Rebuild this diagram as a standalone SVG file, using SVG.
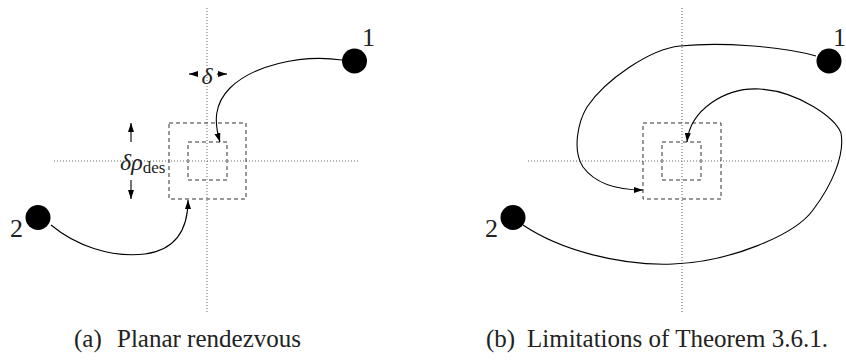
<svg xmlns="http://www.w3.org/2000/svg" width="846" height="363" viewBox="0 0 846 363">
<style>
.dot{stroke:#666;stroke-width:1;stroke-dasharray:1 2;fill:none}
.dash{stroke:#333;stroke-width:1;stroke-dasharray:4 3;fill:none}
.curve{stroke:#000;stroke-width:1.1;fill:none}
.arr{marker-end:url(#ah)}
text{font-family:'Liberation Serif','Times New Roman',serif;fill:#222}
.it{font-style:italic}
</style>
<defs>
<marker id="ah" markerUnits="userSpaceOnUse" markerWidth="10" markerHeight="8" refX="9" refY="3" orient="auto">
<path d="M0,0 L9,3 L0,6 z" fill="#000"/>
</marker>
</defs>
<rect width="846" height="363" fill="#fff"/>

<g id="axes">
<line class="dot" x1="207" y1="8" x2="207" y2="313"/>
<line class="dot" x1="54" y1="161" x2="360" y2="161"/>
<line class="dot" x1="682" y1="8" x2="682" y2="313"/>
<line class="dot" x1="528" y1="161" x2="834" y2="161"/>
</g>

<g id="boxA">
<rect class="dash" x="169" y="123" width="77" height="76"/>
<rect class="dash" x="188" y="142" width="39" height="38"/>
</g>
<g id="boxB">
<rect class="dash" x="643" y="123" width="78" height="76"/>
<rect class="dash" x="662" y="142" width="39" height="38"/>
</g>

<g id="connectors">
<path class="curve arr" d="M342,60 C300,54 252,66 230,88 C214,104 214,122 220,142"/>
<path class="curve arr" d="M51,225 C75,245 110,258 145,254 C175,250 188,230 188,200"/>
<path class="curve arr" d="M816,56 C780,46 720,42 680,46 C650,49 605,80 587,107 C578,122 572,150 583,167 C594,182 615,190 643,190"/>
<path class="curve arr" d="M523,225 C560,250 620,266 673,264 C730,262 795,235 813,210 C832,185 845,155 841,133 C835,118 800,92 760,89 C725,87 690,110 687,142"/>
<line class="curve arr" x1="198" y1="74" x2="189" y2="74"/>
<line class="curve arr" x1="217" y1="74" x2="227" y2="74"/>
<line class="curve arr" x1="131" y1="142" x2="131" y2="123"/>
<line class="curve arr" x1="131" y1="180" x2="131" y2="199"/>
</g>

<g id="nodeA1">
<circle cx="354.5" cy="61" r="12.5" fill="#000"/>
<text x="362" y="46" font-size="26" font-family="Liberation Serif, serif">1</text>
</g>
<g id="nodeA2">
<circle cx="38" cy="217.5" r="12.5" fill="#000"/>
<text x="10" y="237" font-size="26" font-family="Liberation Serif, serif">2</text>
</g>
<g id="nodeB1">
<circle cx="829" cy="61" r="12.5" fill="#000"/>
<text x="833" y="46" font-size="26" font-family="Liberation Serif, serif">1</text>
</g>
<g id="nodeB2">
<circle cx="513" cy="217.5" r="12.5" fill="#000"/>
<text x="485" y="237" font-size="26" font-family="Liberation Serif, serif">2</text>
</g>

<g id="labels">
<text class="it" x="207" y="84" font-size="24" text-anchor="middle" font-family="Liberation Serif, serif">δ</text>
<text x="120" y="170" font-size="24" font-family="Liberation Serif, serif"><tspan class="it">δρ</tspan><tspan font-size="17" dy="3">des</tspan></text>
</g>

<g id="captions">
<text x="74" y="347" font-size="25" font-family="Liberation Serif, serif">(a)<tspan x="117">Planar rendezvous</tspan></text>
<text x="486" y="347" font-size="25" font-family="Liberation Serif, serif">(b)<tspan x="527">Limitations of Theorem 3.6.1.</tspan></text>
</g>
</svg>
